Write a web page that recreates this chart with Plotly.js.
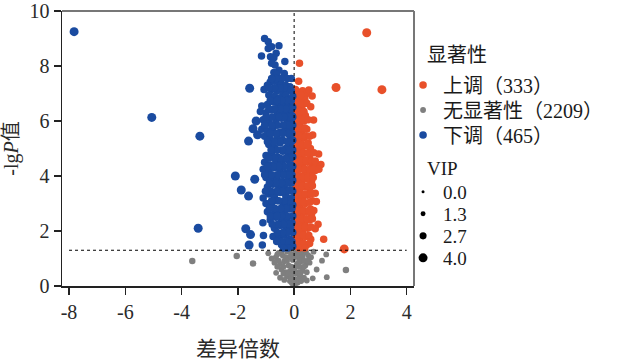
<!DOCTYPE html>
<html>
<head>
<meta charset="utf-8">
<script src="https://cdn.plot.ly/plotly-3.0.1.min.js"></script>
<style>html,body{margin:0;padding:0;background:#fff;}#chart{width:619px;height:362px;}</style>
</head>
<body>
<div id="chart"></div>
<script>
// ---- data ----
const upX = [2.58,1.49,3.12,1.78,1.05,0.19,0.16,
  0.05,0.15,0.30,0.45,0.52,0.64, 0.08,0.22,0.38, 0.05,0.18,0.32,0.59, 0.10,0.25,0.40,
  0.06,0.20,0.35,0.69, 0.12,0.28,0.45,0.66, 0.05,0.20,0.35,0.50, 0.10,0.25,0.42,0.58,
  0.06,0.20,0.35,0.55,0.87, 0.12,0.30,0.48,0.65,0.80,0.95, 0.05,0.22,0.40,0.58,0.75,
  0.10,0.28,0.45,0.62, 0.06,0.20,0.38,0.55,0.75, 0.12,0.30,0.48,0.65,0.79,
  0.05,0.22,0.40,0.58, 0.10,0.28,0.45,0.62, 0.06,0.20,0.38,0.55,0.85,
  0.12,0.30,0.48,0.75, 0.05,0.22,0.40,0.59, 0.10,0.28,0.45,
  0.10,0.25, 0.12,0.26,0.45, 0.06,0.22,0.35, 0.05,0.15,0.30,0.50, 0.06,0.22,0.38,
  0.05,0.18,0.40,0.55, 0.06,0.15,0.30,0.45, 0.05,0.18,0.35,0.50,0.70,
  0.05,0.25,0.42,0.62,0.75, 0.06,0.20,0.38,0.55,0.70,0.88, 0.12,0.32,0.50,0.68,
  0.05,0.15,0.28,0.48,0.65, 0.05,0.25,0.40,0.60, 0.08,0.20,0.35,0.55,
  0.05,0.18,0.35,0.52,0.70, 0.12,0.30,0.45,0.65, 0.05,0.20,0.38,0.60,
  0.08,0.20,0.32,0.52, 0.05,0.18,0.35,0.55, 0.18,0.38];
const upY = [9.21,7.22,7.14,1.35,1.70,8.10,7.45,
  7.15,7.05,7.10,7.00,7.13,6.91, 6.85,6.75,6.80, 6.50,6.45,6.60,6.52, 6.25,6.15,6.20,
  5.90,5.85,6.00,6.04, 5.65,5.55,5.70,5.49, 5.30,5.25,5.40,5.20, 5.05,4.95,5.10,5.00,
  4.70,4.75,4.60,4.65,4.80, 4.45,4.35,4.50,4.40,4.38,4.42, 4.10,4.00,4.15,4.05,4.20,
  3.85,3.75,3.90,3.80, 3.50,3.45,3.60,3.55,3.37, 3.25,3.15,3.30,3.10,3.07,
  2.90,2.85,3.00,2.80, 2.65,2.55,2.70,2.60, 2.35,2.30,2.25,2.40,2.25,
  2.00,1.95,2.10,2.08, 1.75,1.65,1.80,1.70, 1.45,1.40,1.50,
  6.95,6.95, 6.65,6.65,6.65, 6.35,6.35,6.35, 6.05,6.05,6.05,6.05, 5.75,5.75,5.75,
  5.45,5.45,5.45,5.45, 5.15,5.15,5.15,5.15, 4.85,4.85,4.85,4.85,4.85,
  4.55,4.55,4.55,4.55,4.55, 4.25,4.25,4.25,4.25,4.25,4.25, 3.95,3.95,3.95,3.95,
  3.65,3.65,3.65,3.65,3.65, 3.35,3.35,3.35,3.35, 3.05,3.05,3.05,3.05,
  2.75,2.75,2.75,2.75,2.75, 2.45,2.45,2.45,2.45, 2.15,2.15,2.15,2.15,
  1.85,1.85,1.85,1.85, 1.55,1.55,1.55,1.55, 1.38,1.38];

const downX = [-7.82,-5.06,-3.35,-3.41,-2.09,-1.88,-1.62,-1.40,-1.72,-1.55,-1.60,-1.62,-1.46,-1.58,-1.13,-1.09,-1.11,
  -1.05,-0.92,-0.92,-0.54,-0.80, -1.16,-0.84,-0.64,-0.72, -0.33,-0.68,-0.80,
  -0.54,-0.72,-0.35,-0.62, -0.85,-0.70,-0.55,-0.45,-0.30,-0.15,-0.95,
  -1.07,-0.80,-0.60,-0.40,-0.10,-0.25, -0.90,-0.70,-0.50,-0.30,-0.15,-0.05,
  -1.15,-0.95,-0.75,-0.55,-0.35,-0.20,-0.05, -1.20,-1.00,-0.80,-0.60,-0.40,-0.20,-0.08,
  -1.35,-1.10,-0.90,-0.65,-0.45,-0.25,-0.10, -1.15,-0.95,-0.75,-0.50,-0.30,-0.12,
  -1.30,-1.05,-0.85,-0.60,-0.40,-0.15,-0.05, -0.90,-0.70,-0.50,-0.30,-0.15,
  -1.00,-0.80,-0.60,-0.40,-0.20,-0.05, -1.05,-0.85,-0.65,-0.45,-0.25,-0.10,
  -1.10,-0.90,-0.70,-0.50,-0.30,-0.12, -1.00,-0.80,-0.60,-0.40,-0.20,-0.05,
  -0.95,-0.75,-0.55,-0.35,-0.15, -1.10,-0.90,-0.70,-0.50,-0.30,-0.10,
  -1.00,-0.80,-0.60,-0.40,-0.20,-0.05, -0.95,-0.75,-0.55,-0.35,-0.15,
  -0.85,-0.65,-0.45,-0.25,-0.08, -0.70,-0.50,-0.30,-0.12, -0.75,-0.55,-0.35,-0.15,
  -0.45,-0.30,-0.15,-0.05,
  -0.10,-0.25,-0.45,-0.65,-0.80, -0.35,-0.50,-0.70,-0.90, -0.10,-0.25,-0.45,-0.60,-0.85,
  -0.12,-0.30,-0.50,-0.70,-0.90, -0.05,-0.18,-0.35,-0.55,-0.78,-1.00,
  -0.05,-0.20,-0.40,-0.60,-0.80,-1.05, -0.08,-0.22,-0.40,-0.65,-0.85,
  -0.10,-0.25,-0.50,-0.72,-0.95, -0.05,-0.22,-0.42,-0.60,-0.82,
  -0.12,-0.30,-0.50,-0.70,-0.90, -0.05,-0.20,-0.35,-0.55,-0.75,-0.95,
  -0.08,-0.20,-0.40,-0.60,-0.80,-1.05, -0.10,-0.25,-0.45,-0.65,-0.88,
  -0.05,-0.25,-0.42,-0.62,-0.82,-1.02, -0.15,-0.35,-0.55,-0.80,
  -0.08,-0.28,-0.48,-0.68,-0.88, -0.05,-0.25,-0.45,-0.62,-0.85,
  -0.18,-0.38,-0.58,-0.78, -0.05,-0.22,-0.40,-0.60, -0.08,-0.25,-0.45,-0.62, -0.22,-0.38];
const downY = [9.25,6.13,5.45,2.10,4.00,3.49,3.27,3.88,2.08,1.87,1.49,5.27,5.72,7.19,1.49,1.84,2.30,
  9.00,8.88,8.64,8.74,8.70, 8.36,8.34,8.46,8.30, 8.16,8.04,8.10,
  7.85,7.76,7.73,7.70, 7.42,7.45,7.40,7.35,7.30,7.25,7.30,
  7.15,7.15,7.10,7.05,7.10,7.15, 6.95,6.90,6.85,6.95,6.80,6.90,
  6.55,6.60,6.70,6.60,6.65,6.55,6.50, 6.35,6.30,6.40,6.30,6.25,6.35,6.20,
  6.00,6.05,5.95,6.00,6.10,5.95,6.05, 5.70,5.65,5.75,5.60,5.70,5.65,
  5.50,5.45,5.35,5.40,5.30,5.45,5.30, 5.15,5.05,5.20,5.00,5.10,
  4.75,4.85,4.70,4.90,4.80,4.70, 4.50,4.40,4.55,4.45,4.60,4.40,
  4.25,4.15,4.30,4.20,4.10,4.25, 3.95,3.85,3.90,3.80,3.95,3.85,
  3.60,3.70,3.55,3.65,3.50, 3.20,3.35,3.25,3.40,3.30,3.20,
  3.00,2.95,3.10,2.90,3.05,2.95, 2.70,2.60,2.75,2.65,2.80,
  2.40,2.50,2.35,2.45,2.30, 2.10,2.20,2.05,2.15, 1.80,1.75,1.85,1.70,
  1.50,1.40,1.55,1.45,
  7.55,7.55,7.55,7.55,7.55, 7.20,7.20,7.20,7.20, 6.75,6.75,6.75,6.75,6.75,
  6.45,6.45,6.45,6.45,6.45, 6.15,6.15,6.15,6.15,6.15,6.15,
  5.85,5.85,5.85,5.85,5.85,5.85, 5.55,5.55,5.55,5.55,5.55,
  5.25,5.25,5.25,5.25,5.25, 4.95,4.95,4.95,4.95,4.95,
  4.65,4.65,4.65,4.65,4.65, 4.35,4.35,4.35,4.35,4.35,4.35,
  4.05,4.05,4.05,4.05,4.05,4.05, 3.75,3.75,3.75,3.75,3.75,
  3.45,3.45,3.45,3.45,3.45,3.45, 3.10,3.10,3.10,3.10,
  2.82,2.82,2.82,2.82,2.82, 2.55,2.55,2.55,2.55,2.55,
  2.25,2.25,2.25,2.25, 1.95,1.95,1.95,1.95, 1.62,1.62,1.62,1.62, 1.38,1.38];

const noneX = [-3.62,-2.04,-1.46,-0.92,-0.64,1.14,0.99,1.16,1.84,0.66,0.69,
  -0.55,-0.40,-0.25,-0.10,0.05,0.20,0.35,0.50,
  -0.70,-0.50,-0.35,-0.20,-0.05,0.10,0.25,0.40,0.55,
  -0.45,-0.30,-0.15,0.00,0.15,0.30,0.45,
  -0.25,-0.10,0.05,0.20,0.35,-0.35, -0.08,0.03,0.12,
  -0.80,-0.60,0.60,0.80,0.45,-0.50,
  -0.03,0.00,0.02,-0.02,0.01,0.00,
  -0.45,-0.15,0.12,0.28,0.42, -0.65,-0.30,-0.15,0.00,0.15,0.30,
  -0.55,-0.25,0.18,0.35,0.48, -0.60,-0.38,-0.10,0.05,0.20,0.35,
  -0.38,-0.22,-0.05,0.08,0.22, -0.15,0.00,0.15,0.25, 0.00,-0.02];
const noneY = [0.91,1.09,0.82,1.19,0.48,1.15,0.92,0.32,0.58,0.28,1.25,
  1.20,1.10,1.25,1.15,1.22,1.10,1.20,1.12,
  0.85,0.80,0.90,0.75,0.95,0.80,0.90,0.75,0.85,
  0.60,0.50,0.55,0.60,0.50,0.55,0.50,
  0.35,0.30,0.25,0.35,0.30,0.22, 0.10,0.05,0.12,
  1.00,1.15,1.05,0.60,0.20,0.30,
  6.00,5.00,3.50,2.50,4.40,1.50,
  1.25,1.25,1.25,1.25,1.25, 1.05,1.05,1.05,1.05,1.05,1.05,
  0.92,0.92,0.92,0.92,0.92, 0.70,0.70,0.70,0.70,0.70,0.70,
  0.45,0.45,0.45,0.45,0.45, 0.18,0.18,0.18,0.18, 0.02,0.20];

const groupNames = ['上调（333）', '无显著性（2209）', '下调（465）'];
const vipLevels = [0.0, 1.3, 2.7, 4.0];
const vipLabels = ['0.0', '1.3', '2.7', '4.0'];
const xTickVals = [-8, -6, -4, -2, 0, 2, 4];
const xTickText = ['-8', '-6', '-4', '-2', '0', '2', '4'];
const yTickVals = [0, 2, 4, 6, 8, 10];
const yTickText = ['0', '2', '4', '6', '8', '10'];
const pThreshold = 1.3;   // -lg(0.05)
const fcMin = -8, fcMax = 4;

// ---- styling ----
const RED = '#E8502A', BLUE = '#1A4BA0', GRAY = '#7F7F7F';
const SERIF = 'Liberation Serif, Times New Roman, Noto Sans CJK SC, serif';
const vipSize = v => 3 + v * 1.5;
const ptSize = (xs, base, big) => xs.map(v => Math.abs(v) > 1.2 ? big : base);
const mk = (color, size) => ({color:color, size:size, opacity:1, line:{width:0}});

const traces = [
  {type:'scatter', mode:'markers', x:noneX, y:noneY, name:groupNames[1], legend:'legend2',
   marker:mk(GRAY, ptSize(noneX, 5.8, 6.5)), hoverinfo:'skip'},
  {type:'scatter', mode:'markers', x:upX, y:upY, name:groupNames[0], legend:'legend',
   marker:mk(RED, ptSize(upX, 7.5, 9)), hoverinfo:'skip'},
  {type:'scatter', mode:'markers', x:downX, y:downY, name:groupNames[2], legend:'legend3',
   marker:mk(BLUE, ptSize(downX, 7.5, 9)), hoverinfo:'skip'}
];
vipLevels.forEach((v, i) => {
  traces.push({type:'scatter', mode:'markers', x:[null], y:[null], name:vipLabels[i],
    legend:'legend' + (i + 4), marker:mk('#000', vipSize(v)), hoverinfo:'skip'});
});

// legend placement (pixel -> paper)
const L = 62, R = 416, T = 11, B = 286;
const px = p => (p - L) / (R - L);
const py = p => (B - p) / (B - T);
const legLeft = 405;
const rowY = [85, 110, 135, 192, 214, 236, 258];
const legFontMain = {family:SERIF, size:20, color:'#1a1a1a'};
const legFontVip = {family:SERIF, size:19, color:'#1a1a1a'};
const mkLegend = (i, font) => ({x:px(legLeft), y:py(rowY[i]), xanchor:'left', yanchor:'middle',
  bgcolor:'rgba(0,0,0,0)', borderwidth:0, font:font, itemsizing:'trace', tracegroupgap:0});

const layout = {
  width:619, height:362,
  margin:{l:L, r:619 - R, t:T, b:362 - B},
  paper_bgcolor:'#fff', plot_bgcolor:'#fff',
  showlegend:true,
  legend:mkLegend(0, legFontMain), legend2:mkLegend(1, legFontMain), legend3:mkLegend(2, legFontMain),
  legend4:mkLegend(3, legFontVip), legend5:mkLegend(4, legFontVip), legend6:mkLegend(5, legFontVip), legend7:mkLegend(6, legFontVip),
  xaxis:{range:[-8.25, 4.26], tickmode:'array', tickvals:xTickVals, ticktext:xTickText,
    ticks:'outside', ticklen:7, tickwidth:1.5, tickcolor:'#222', showgrid:false, zeroline:false,
    showline:true, linecolor:'#222', linewidth:1.5,
    tickfont:{family:SERIF, size:20, color:'#2a2a2a'},
    title:{text:'差异倍数', font:{family:SERIF, size:21, color:'#2a2a2a'}, standoff:20}},
  yaxis:{range:[0, 10], tickmode:'array', tickvals:yTickVals, ticktext:yTickText,
    ticks:'outside', ticklen:7, tickwidth:1.5, tickcolor:'#222', showgrid:false, zeroline:false,
    showline:true, linecolor:'#222', linewidth:1.5,
    tickfont:{family:SERIF, size:20, color:'#2a2a2a'},
    title:{text:'-lg<i>P</i>值', font:{family:SERIF, size:20, color:'#2a2a2a'}, standoff:10}},
  shapes:[
    {type:'line', xref:'paper', yref:'paper', x0:0, x1:1, y0:1, y1:1, line:{color:'#777', width:2}},
    {type:'line', xref:'paper', yref:'paper', x0:1, x1:1, y0:0, y1:1, line:{color:'#777', width:2}},
    {type:'line', xref:'x', yref:'y', x0:0, x1:0, y0:0, y1:10, line:{color:'#000', width:1, dash:'dot'}},
    {type:'line', xref:'x', yref:'y', x0:fcMin, x1:fcMax, y0:pThreshold, y1:pThreshold, line:{color:'#000', width:1, dash:'dot'}}
  ],
  annotations:[
    {text:'显著性', xref:'paper', yref:'paper', x:px(427), y:py(55), xanchor:'left', yanchor:'middle',
     showarrow:false, font:{family:SERIF, size:20, color:'#1a1a1a'}},
    {text:'VIP', xref:'paper', yref:'paper', x:px(427), y:py(168), xanchor:'left', yanchor:'middle',
     showarrow:false, font:{family:SERIF, size:19, color:'#1a1a1a'}}
  ]
};

Plotly.newPlot('chart', traces, layout, {displayModeBar:false, staticPlot:true});
</script>
</body>
</html>
